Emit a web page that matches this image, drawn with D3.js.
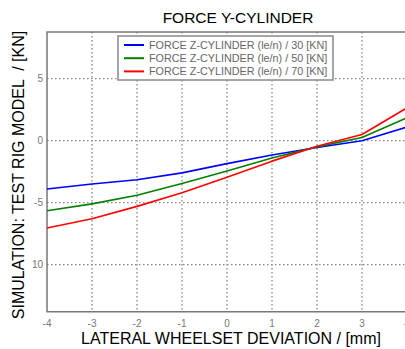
<!DOCTYPE html>
<html><head><meta charset="utf-8">
<script src="https://cdn.jsdelivr.net/npm/d3@7"></script>
<style>body{margin:0;background:#fff;}svg{display:block;font-family:"Liberation Sans",Arial,sans-serif;}</style>
</head><body><svg id="c" width="405" height="349"></svg>
<script>
const xValues = [-4,-3,-2,-1,0,1,2,3,4];
const force30 = [-3.9,-3.5,-3.15,-2.6,-1.85,-1.15,-0.55,0.0,1.1];
const force50 = [-5.65,-5.1,-4.4,-3.45,-2.45,-1.4,-0.5,0.25,1.85];
const force70 = [-7.05,-6.3,-5.3,-4.2,-2.95,-1.65,-0.45,0.5,2.65];
const seriesNames = ["FORCE Z-CYLINDER (le/n) / 30 [KN]","FORCE Z-CYLINDER (le/n) / 50 [KN]","FORCE Z-CYLINDER (le/n) / 70 [KN]"];
const seriesColors = ["#0000ff","#008000","#ff0000"];
const xTicks = [-4,-3,-2,-1,0,1,2,3,4];
const yTicks = [5,0,-5,-10];
const yTickLabels = ["5","0","-5","10"];

const svg = d3.select("#c");
const x = d3.scaleLinear().domain([-4,4]).range([47,407]);
const y = d3.scaleLinear().domain([8.77,-13.8]).range([32,311.7]);

svg.append("rect").attr("x",47).attr("y",32).attr("width",360).attr("height",279.7).attr("fill","#fff");

// grid
svg.append("g").selectAll("line").data(xTicks.slice(1)).join("line")
  .attr("x1",d=>x(d)).attr("x2",d=>x(d)).attr("y1",32).attr("y2",311.7)
  .attr("stroke","#888").attr("stroke-width",1.3).attr("stroke-dasharray","1.5,2.5");
svg.append("g").selectAll("line").data(yTicks).join("line")
  .attr("x1",47).attr("x2",407).attr("y1",d=>y(d)).attr("y2",d=>y(d))
  .attr("stroke","#888").attr("stroke-width",1.3).attr("stroke-dasharray","1.5,2.5");

// frame
svg.append("path").attr("d",`M407,32H47V311.7H407`).attr("fill","none").attr("stroke","#777").attr("stroke-width",1.5);

// tick labels
svg.append("g").selectAll("text").data(xTicks).join("text")
  .attr("x",d=>x(d)).attr("y",327).attr("text-anchor","middle")
  .attr("font-size",10).attr("fill","#777").text(d=>d);
svg.append("g").selectAll("text").data(yTicks).join("text")
  .attr("x",43).attr("y",d=>y(d)+3.5).attr("text-anchor","end")
  .attr("font-size",10).attr("fill","#777").text((d,i)=>yTickLabels[i]);

// lines
const line = d3.line().x((d,i)=>x(xValues[i])).y(d=>y(d));
[force30,force50,force70].forEach((s,i)=>{
  svg.append("path").datum(s).attr("d",line).attr("fill","none")
    .attr("stroke",seriesColors[i]).attr("stroke-width",1.6).attr("stroke-linejoin","round");
});

// legend
const lg = svg.append("g");
lg.append("rect").attr("x",118).attr("y",36).attr("width",215).attr("height",44)
  .attr("fill","#fff").attr("stroke","#888").attr("stroke-width",1.5);
seriesNames.forEach((n,i)=>{
  const yy = 45 + i*13.2;
  lg.append("line").attr("x1",124).attr("x2",144).attr("y1",yy).attr("y2",yy)
    .attr("stroke",seriesColors[i]).attr("stroke-width",2);
  lg.append("text").attr("x",149).attr("y",yy+3.8).attr("font-size",10.8)
    .attr("fill","#666").text(n);
});

// titles
svg.append("text").attr("x",238).attr("y",23).attr("text-anchor","middle")
  .attr("font-size",15.5).attr("fill","#000").text("FORCE Y-CYLINDER");
svg.append("text").attr("x",231).attr("y",344).attr("text-anchor","middle")
  .attr("font-size",16).attr("fill","#000").text("LATERAL WHEELSET DEVIATION / [mm]");
svg.append("text").attr("transform","translate(24,175) rotate(-90)").attr("text-anchor","middle")
  .attr("font-size",16).attr("fill","#000").style("white-space","pre").text("SIMULATION: TEST RIG MODEL  / [KN]");
</script></body></html>
